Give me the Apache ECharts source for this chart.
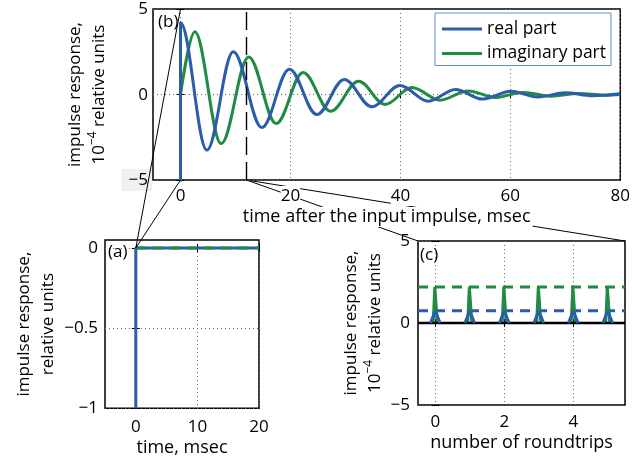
<!DOCTYPE html>
<html><head><meta charset="utf-8">
<script src="https://cdn.jsdelivr.net/npm/echarts@6/dist/echarts.min.js"></script>
<style>html,body{margin:0;padding:0;background:#fff}#c{width:633px;height:461px}</style>
</head><body><div id="c"></div>
<script>
// ---------------- data ----------------
// (b) impulse response, 1e-4 relative units, vs time (msec): [t, value] at extrema
const realPart = [[0,-10000],[0,4.2],[4.8,-3.25],[9.6,2.5],[14.8,-1.93],[19.8,1.48],[24.8,-1.17],[29.8,0.88],[34.8,-0.72],[39.9,0.53],[45.1,-0.39],[50,0.29],[55,-0.27],[60.1,0.19],[65,-0.14],[70,0.1],[75,-0.07],[80,0.04]];
const imagPart = [[0,0],[2.6,3.67],[7.4,-2.87],[12.4,2.2],[17.4,-1.7],[22.3,1.29],[27.3,-0.98],[32.4,0.78],[37.2,-0.58],[42.1,0.41],[47.2,-0.33],[52.3,0.21],[57.4,-0.17],[62.3,0.12],[67.4,-0.1],[72.4,0.06],[77.4,-0.04],[80,0]];
const roundtripTime = 12;
// (a) relative units, vs time (msec)
const zoomReal = [[0,-1],[0,0],[20,0]];
const zoomImag = [[0,0],[20,0]];
// (c) per roundtrip
const roundtrips = [0,1,2,3,4,5];
const realPeaks = [0.75,0.75,0.75,0.75,0.75,0.75];
const imagPeaks = [2.2,2.2,2.2,2.2,2.2,2.2];
const realLevel = 0.75, imagLevel = 2.2;
// tick labels
const ticksBx = [0,20,40,60,80], ticksBy = [-5,0,5];
const ticksAx = [0,10,20], ticksAy = [-1,-0.5,0];
const ticksCx = [0,2,4], ticksCy = [-5,0,5];
// ranges
const rangeB = {x:[-5,80], y:[-5,5]};
const rangeA = {x:[-5,20], y:[-1,0.05]};
const rangeC = {x:[-0.5,5.5], y:[-5,5]};

// ---------------- style ----------------
const FONT = 'Open Sans';
const BLUE = '#2b5dab', GREEN = '#1f8b44';
const fs = 17;
const minus = v => String(v).replace('-', '\u2212');

function spikes(peaks, baseHalf, topHalf) {
  const d = [];
  roundtrips.forEach((n, i) => {
    d.push([n - baseHalf, 0], [n - topHalf, peaks[i]], [n + topHalf, peaks[i]], [n + baseHalf, 0], [n + 0.5, '-']);
  });
  return d;
}

const grids = [
  {left:153, top:9, width:470, height:171},
  {left:105, top:240, width:154, height:168.3},
  {left:418, top:241, width:207, height:164}
].map(g => Object.assign({show:true, borderColor:'#000', borderWidth:1.5, backgroundColor:'transparent', containLabel:false}, g));

const gridSplit = {show:true, lineStyle:{color:'#666', width:1, type:[1,3]}};
const tickStyle = (vals) => ({show:true, inside:true, length:4, customValues:vals, lineStyle:{color:'#000', width:1}});
const nameStyle = {fontSize:18, fontFamily:FONT, color:'#000', lineHeight:20};

function mainX(gi, range, ticks, name, gap, margin, bg) {
  return {
    gridIndex:gi, type:'value', position:'bottom', min:range[0], max:range[1],
    axisLine:{show:false}, axisTick:tickStyle(ticks), splitLine:gridSplit,
    axisLabel:{customValues:ticks, margin:margin, fontSize:fs, fontFamily:FONT, color:'#000', formatter:minus,
      backgroundColor: bg ? '#fff' : 'transparent', lineHeight:20},
    name:name, nameLocation:'middle', nameGap:gap,
    nameTextStyle:Object.assign({}, nameStyle, bg ? {backgroundColor:'#fff', padding:[0,2,0,2]} : {})
  };
}
function mirrorX(gi, range, ticks) {
  return {gridIndex:gi, type:'value', position:'top', min:range[0], max:range[1],
    axisLine:{show:false}, axisTick:tickStyle(ticks), axisLabel:{show:false, customValues:ticks}, splitLine:{show:false}};
}
function mainY(gi, range, ticks, name, gap, margin, labelFmt, rich) {
  return {
    gridIndex:gi, type:'value', position:'left', min:range[0], max:range[1],
    axisLine:{show:false}, axisTick:tickStyle(ticks), splitLine:gridSplit,
    axisLabel:{customValues:ticks, margin:margin, fontSize:fs, fontFamily:FONT, color:'#000', formatter:labelFmt || minus, rich:rich},
    name:name, nameLocation:'middle', nameGap:gap,
    nameTextStyle:{fontSize:fs, fontFamily:FONT, color:'#000', lineHeight:24,
      rich:{sup:{fontSize:12, fontFamily:FONT, color:'#000', verticalAlign:'top', lineHeight:24}}}
  };
}
function mirrorY(gi, range, ticks) {
  return {gridIndex:gi, type:'value', position:'right', min:range[0], max:range[1],
    axisLine:{show:false}, axisTick:tickStyle(ticks), axisLabel:{show:false, customValues:ticks}, splitLine:{show:false}};
}

const yNameSup = 'impulse response,\n10{sup|\u22124} relative units';

const xAxis = [
  mainX(0, rangeB.x, ticksBx, 'time after the input impulse, msec', 26, 6, true),
  mainX(1, rangeA.x, ticksAx, 'time, msec', 24, 9, false),
  mainX(2, rangeC.x, ticksCx, 'number of roundtrips', 28, 7, false),
  mirrorX(0, rangeB.x, ticksBx), mirrorX(1, rangeA.x, ticksAx), mirrorX(2, rangeC.x, ticksCx)
];
const yAxis = [
  mainY(0, rangeB.y, ticksBy, yNameSup, 31, 1,
    v => v === -5 ? '{g|' + minus(v) + '}' : '{n|' + minus(v) + '}',
    {g:{backgroundColor:'#f0f0ee', padding:[3,4,2,7], fontSize:fs, fontFamily:FONT, color:'#000'},
     n:{padding:[3,4,2,7], fontSize:fs, fontFamily:FONT, color:'#000'}}),
  mainY(1, rangeA.y, ticksAy, 'impulse response,\nrelative units', 44, 7),
  mainY(2, rangeC.y, ticksCy, yNameSup, 27, 8),
  mirrorY(0, rangeB.y, ticksBy), mirrorY(1, rangeA.y, ticksAy), mirrorY(2, rangeC.y, ticksCy)
];

const base = {type:'line', symbol:'none', showSymbol:false, animation:false, clip:true, silent:true};
const series = [
  // (b)
  Object.assign({}, base, {name:'real part', xAxisIndex:0, yAxisIndex:0, data:realPart, smooth:0.36, smoothMonotone:'x',
    lineStyle:{color:BLUE, width:3}, itemStyle:{color:BLUE}, z:3,
    markLine:{silent:true, symbol:'none', label:{show:false}, animation:false,
      lineStyle:{color:'#000', width:1.4, type:[18,7]}, data:[{xAxis:roundtripTime}]}}),
  Object.assign({}, base, {name:'imaginary part', xAxisIndex:0, yAxisIndex:0, data:imagPart, smooth:0.36, smoothMonotone:'x',
    lineStyle:{color:GREEN, width:3}, itemStyle:{color:GREEN}, z:2}),
  // (a)
  Object.assign({}, base, {name:'a-real', xAxisIndex:1, yAxisIndex:1, data:zoomReal, lineStyle:{color:BLUE, width:3}, z:2}),
  Object.assign({}, base, {name:'a-imag', xAxisIndex:1, yAxisIndex:1, data:zoomImag, lineStyle:{color:GREEN, width:3, type:[10,7]}, z:3}),
  // (c)
  Object.assign({}, base, {name:'c-zero', xAxisIndex:2, yAxisIndex:2, data:[[rangeC.x[0],0],[rangeC.x[1],0]], lineStyle:{color:'#000', width:2.5}, z:3}),
  Object.assign({}, base, {name:'c-imag-level', xAxisIndex:2, yAxisIndex:2, data:[[rangeC.x[0],imagLevel],[rangeC.x[1],imagLevel]], lineStyle:{color:GREEN, width:3, type:[10,7]}, z:2}),
  Object.assign({}, base, {name:'c-real-level', xAxisIndex:2, yAxisIndex:2, data:[[rangeC.x[0],realLevel],[rangeC.x[1],realLevel]], lineStyle:{color:BLUE, width:3, type:[10,7]}, z:2}),
  Object.assign({}, base, {name:'c-imag', xAxisIndex:2, yAxisIndex:2, data:spikes(imagPeaks, 0.06, 0.012), connectNulls:false, lineStyle:{color:GREEN, width:3}, z:2}),
  Object.assign({}, base, {name:'c-real', xAxisIndex:2, yAxisIndex:2, data:spikes(realPeaks, 0.14, 0.0), connectNulls:false, lineStyle:{color:BLUE, width:3}, z:4})
];

const option = {
  animation:false,
  backgroundColor:'#fff',
  textStyle:{fontFamily:FONT},
  grid:grids, xAxis:xAxis, yAxis:yAxis, series:series,
  legend:{data:['real part','imaginary part'], orient:'vertical', left:435, top:13, icon:'rect',
    itemWidth:40, itemHeight:3, itemGap:6.5, padding:[7,5,3,7], selectedMode:false,
    borderColor:'#6a8cc8', borderWidth:1, backgroundColor:'#fff',
    textStyle:{fontSize:17.5, fontFamily:FONT, color:'#000'}}
};

const chart = echarts.init(document.getElementById('c'), null, {renderer:'canvas'});
chart.setOption(option);

// connector (zoom) lines and panel letters, placed through the axes
const px = (si, pt) => chart.convertToPixel({seriesIndex:si}, pt);
const bTop0 = px(0, [0, rangeB.y[1]]), bBot0 = px(0, [0, rangeB.y[0]]);
const aOrigin = px(2, [0, 0]);
const bRt = px(0, [roundtripTime, rangeB.y[0]]);
const cTL = px(4, [rangeC.x[0], rangeC.y[1]]), cTR = px(4, [rangeC.x[1], rangeC.y[1]]);
const line = (a, b, z) => ({type:'line', z:z, silent:true, shape:{x1:a[0], y1:a[1], x2:b[0], y2:b[1]}, style:{stroke:'#000', lineWidth:1}});
const cornerB = px(0, [rangeB.x[0], rangeB.y[1]]);
const cornerA = px(2, [rangeA.x[0], rangeA.y[1]]);
const cornerC = px(4, [rangeC.x[0], rangeC.y[1]]);
const letter = (t, c, dx, dy) => ({type:'text', z:10, silent:true, x:c[0] + dx, y:c[1] + dy,
  style:{text:t, font:fs + 'px "' + FONT + '"', fill:'#000', textVerticalAlign:'middle', textAlign:'left'}});
chart.setOption({graphic:[
  line(bTop0, aOrigin, 10), line(bBot0, aOrigin, 10),
  line(bRt, cTL, -1), line(bRt, cTR, -1),
  letter('(b)', cornerB, 5, 13.5), letter('(a)', cornerA, 3, 12.5), letter('(c)', cornerC, 2, 14.5)
]});
</script></body></html>
